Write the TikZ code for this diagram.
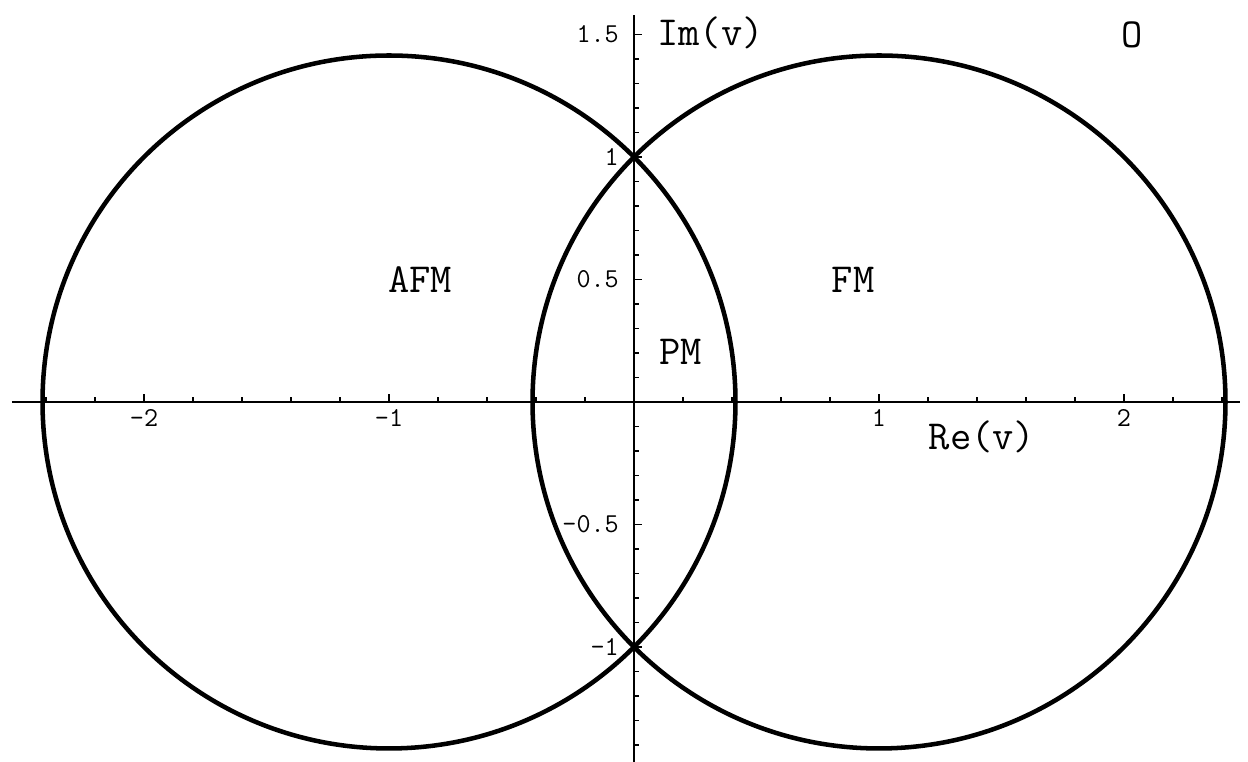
\documentclass[tikz,border=0pt]{standalone}
\usepackage{fontspec}
\begin{document}
\begin{tikzpicture}[x=183.75pt,y=183.75pt,
  curve/.style={line width=3.4pt},
  axisline/.style={line width=1.4pt},
  tickmark/.style={line width=1.1pt},
  lab/.style={font=\fontsize{31}{34}\selectfont\ttfamily, inner sep=0pt},
  ticklab/.style={font=\fontsize{20.5}{23}\selectfont\ttfamily, inner sep=0pt}]
\useasboundingbox (-2.5878,-1.4694) rectangle (2.5061,1.6408);
% axes
\draw[axisline] (-2.539,0) -- (2.473,0);
\draw[axisline] (0,-1.4694) -- (0,1.580);
% x ticks
\foreach \i in {-12,...,12}{
  \draw[tickmark] (\i/5,0) -- ++(0,3.75pt);
}
\foreach \v in {-2,-1,1,2}{
  \draw[tickmark] (\v,0) -- ++(0,6pt);
}
% y ticks
\foreach \i in {-14,...,15}{
  \draw[tickmark] (0,\i/10) -- ++(3.75pt,0);
}
\foreach \v in {-1,-0.5,0.5,1,1.5}{
  \draw[tickmark] (0,\v) -- ++(6pt,0);
}
% circles
\draw[curve] (-1,0) circle ({sqrt(2)});
\draw[curve] (1,0) circle ({sqrt(2)});
% x tick labels
\node[ticklab] (xtA) at (-2,-0.0653) {-2};
\node[ticklab] (xtB) at (-1,-0.0653) {-1};
\node[ticklab] (xtC) at (1,-0.0653) {1};
\node[ticklab] (xtD) at (2,-0.0653) {2};
% y tick labels
\node[ticklab,anchor=east] (ytA) at (-0.0612,1.5) {1.5};
\node[ticklab,anchor=east] (ytB) at (-0.0612,1) {1};
\node[ticklab,anchor=east] (ytC) at (-0.0612,0.5) {0.5};
\node[ticklab,anchor=east] (ytD) at (-0.0612,-0.5) {-0.5};
\node[ticklab,anchor=east] (ytE) at (-0.0612,-1) {-1};
% labels
\node[lab,anchor=west] (imlab) at (0.0939,1.506) {Im(v)};
\node[lab] (relab) at (1.4204,-0.1429) {Re(v)};
\node[lab] (olab) at (2.0327,1.498) {O};
\node[lab] (afm) at (-0.8735,0.498) {AFM};
\node[lab] (fm) at (0.8939,0.498) {FM};
\node[lab] (pm) at (0.1918,0.204) {PM};
\end{tikzpicture}
\end{document}
